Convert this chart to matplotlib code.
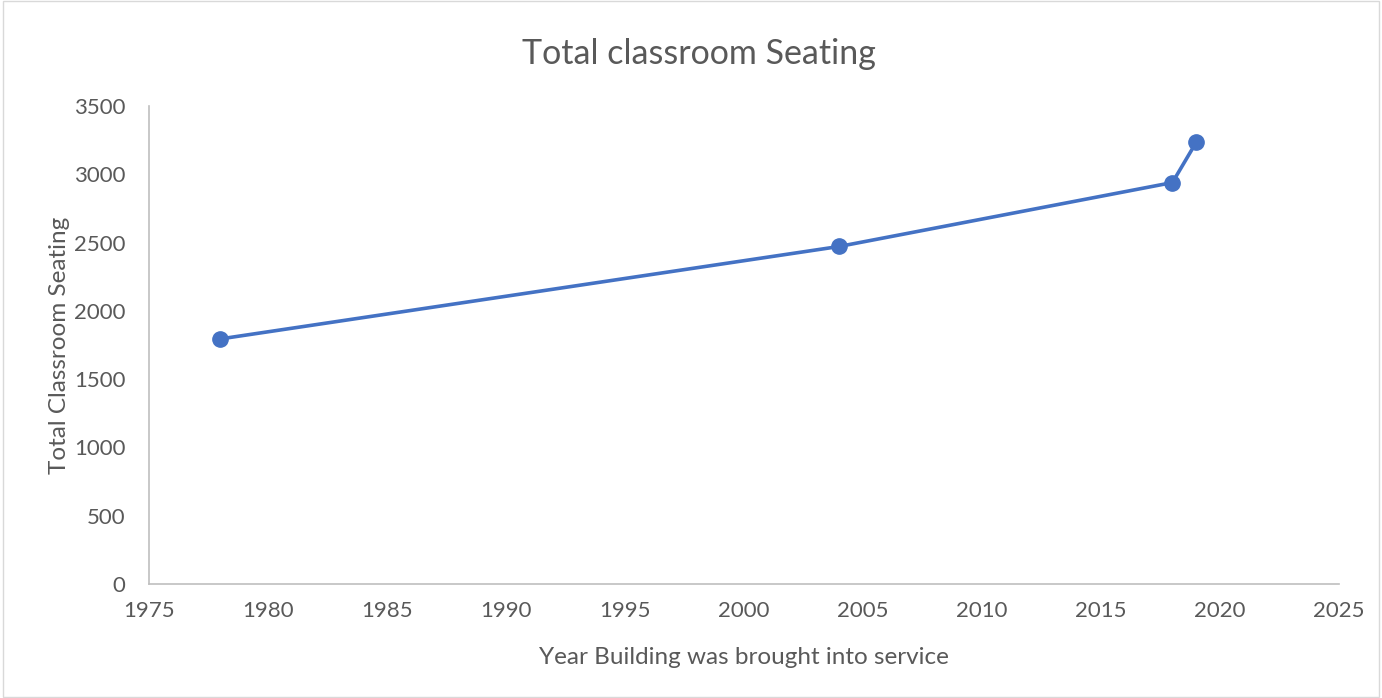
import matplotlib
matplotlib.use('Agg')
from matplotlib import pyplot as plt

years = [1978, 2004, 2018, 2019]
seating = [1795, 2472, 2940, 3235]
xticks = list(range(1975, 2030, 5))
yticks = list(range(0, 4000, 500))

plt.rcParams['font.family'] = ['Lato', 'DejaVu Sans']
txt = '#595959'
blue = '#4472C4'

fig = plt.figure(figsize=(13.82, 6.98), dpi=100)
ax = fig.add_axes([0.1078, 0.1633, 0.8611, 0.6847])

ax.plot(years, seating, color=blue, lw=2.6, marker='o', ms=11, zorder=3)

ax.set_xlim(1975, 2025)
ax.set_ylim(0, 3500)
ax.set_xticks(xticks)
ax.set_yticks(yticks)
ax.tick_params(length=0, labelsize=16, labelcolor=txt)
ax.tick_params(axis='x', pad=12)
ax.tick_params(axis='y', pad=17)

for s in ['top', 'right']:
    ax.spines[s].set_visible(False)
for s in ['left', 'bottom']:
    ax.spines[s].set_color('#BFBFBF')
    ax.spines[s].set_linewidth(1.2)

fig.text(0.506, 0.922, 'Total classroom Seating', fontsize=24.5, color=txt, ha='center', va='center')
ax.set_xlabel('Year Building was brought into service', fontsize=17.5, color=txt, labelpad=19)
ax.set_ylabel('Total Classroom Seating', fontsize=17.5, color=txt, labelpad=3)

fig.patches.append(plt.Rectangle((0.002, 0.002), 0.996, 0.996, transform=fig.transFigure,
                                 fill=False, edgecolor='#D9D9D9', lw=1))

fig.savefig('out.png', dpi=100)
